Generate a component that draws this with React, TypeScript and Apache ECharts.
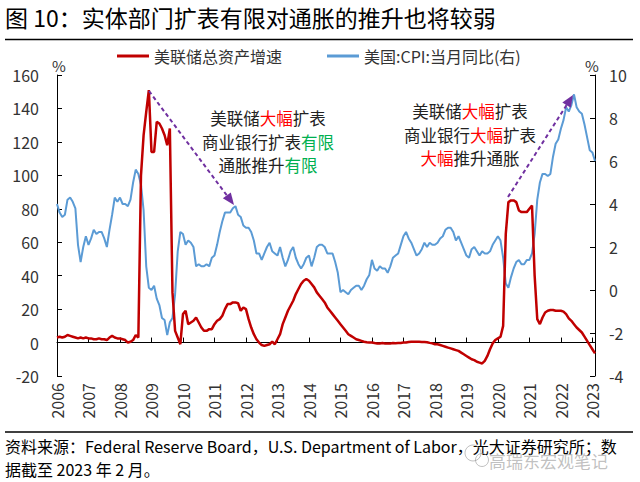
import React, { useEffect, useRef } from "react";
import * as echarts from "echarts";

const FONT = '"Noto Sans CJK SC", "Noto Sans", sans-serif';

const years = [2006, 2007, 2008, 2009, 2010, 2011, 2012, 2013, 2014, 2015, 2016, 2017, 2018, 2019, 2020, 2021, 2022, 2023];
const lastYearMonths = 2; // data ends Feb 2023

const seriesNames = ["美联储总资产增速", "美国:CPI:当月同比(右)"];

// 美联储总资产增速 (%), monthly, 2006-01 .. 2023-02
const fedAssetsYoY = [
  3, 3.5, 3, 3.5, 4.5, 4, 3.5, 3, 2.5, 3, 2.5, 3, // 2006
  2.5, 2.5, 2, 2, 2.5, 2, 2, 1.5, 3, 4, 3, 2.5, // 2007
  2.5, 2, 1.5, 0, 0.5, 1.5, 4.5, 3, 100, 124, 138, 151, // 2008
  114, 114, 132, 131, 128, 124, 118, 128, 30, 7, 3, -1, // 2009
  17, 19, 11, 12, 13, 15, 12, 9, 7, 7, 8, 8, // 2010
  11, 13, 14, 16, 20, 23, 23, 24, 24, 23.5, 19, 21, // 2011
  20, 14, 9, 5, 2, 0, -1.5, -2, -1.5, -1, 0.5, -1, // 2012
  2, 5, 11, 15, 19, 22, 25, 29, 32, 35, 37, 38, // 2013
  37, 35, 33, 30, 28, 26, 24, 21, 19, 17, 15, 13, // 2014
  11, 9, 7, 5, 4, 3, 2, 1.5, 1, 0.5, 0.2, 0, // 2015
  0, -0.3, -0.5, -0.5, -0.3, -0.5, -0.5, -0.5, -0.3, -0.4, -0.3, -0.2, // 2016
  0, 0, 0.3, 0.5, 0.5, 0.5, 0.5, 0.4, 0.3, 0.2, -0.2, -0.5, // 2017
  -1, -1, -1.5, -2, -2.5, -3, -3.5, -4, -4.5, -5, -6, -7, // 2018
  -8, -9, -10, -10.5, -11.5, -12, -12.5, -11, -8, -4, -0.5, 1.5, // 2019
  2.5, 3.5, 10, 65, 84, 85, 85, 84, 79, 78, 78, 78, // 2020
  80, 82, 40, 14, 11, 15, 18, 19, 19.5, 19.5, 19, 19, // 2021
  19, 18.5, 17, 14.5, 13, 11, 9, 7.5, 6, 3.5, 1, -1.5, // 2022
  -4, -6.5, // 2023
];

// 美国:CPI:当月同比 (%), monthly, 2006-01 .. 2023-02
const cpiYoY = [
  4.0, 3.6, 3.4, 3.5, 4.2, 4.3, 4.1, 3.8, 2.1, 1.3, 2.0, 2.5, // 2006
  2.1, 2.4, 2.8, 2.6, 2.7, 2.7, 2.4, 2.0, 2.8, 3.5, 4.3, 4.1, // 2007
  4.3, 4.0, 4.0, 3.9, 4.2, 5.0, 5.6, 5.4, 4.9, 3.7, 1.1, 0.1, // 2008
  0.0, 0.2, -0.4, -0.7, -1.3, -1.4, -2.1, -1.5, -1.3, -0.2, 1.8, 2.7, // 2009
  2.6, 2.1, 2.3, 2.2, 2.0, 1.1, 1.2, 1.1, 1.1, 1.2, 1.1, 1.5, // 2010
  1.6, 2.1, 2.7, 3.2, 3.6, 3.6, 3.6, 3.8, 3.9, 3.5, 3.4, 3.0, // 2011
  2.9, 2.9, 2.7, 2.3, 1.7, 1.7, 1.4, 1.7, 2.0, 2.2, 1.8, 1.7, // 2012
  1.6, 2.0, 1.5, 1.1, 1.4, 1.8, 2.0, 1.5, 1.2, 1.0, 1.2, 1.5, // 2013
  1.6, 1.1, 1.5, 2.0, 2.1, 2.1, 2.0, 1.7, 1.7, 1.7, 1.3, 0.8, // 2014
  -0.1, 0.0, -0.1, -0.2, 0.0, 0.1, 0.2, 0.2, 0.0, 0.2, 0.5, 0.7, // 2015
  1.4, 1.0, 0.9, 1.1, 1.0, 1.0, 0.8, 1.1, 1.5, 1.6, 1.7, 2.1, // 2016
  2.5, 2.7, 2.4, 2.2, 1.9, 1.6, 1.7, 1.9, 2.2, 2.0, 2.2, 2.1, // 2017
  2.1, 2.2, 2.4, 2.5, 2.8, 2.9, 2.9, 2.7, 2.3, 2.5, 2.2, 1.9, // 2018
  1.6, 1.5, 1.9, 2.0, 1.8, 1.6, 1.8, 1.7, 1.7, 1.8, 2.1, 2.3, // 2019
  2.5, 2.3, 1.5, 0.3, 0.1, 0.6, 1.0, 1.3, 1.4, 1.2, 1.2, 1.4, // 2020
  1.4, 1.7, 2.6, 4.2, 5.0, 5.4, 5.4, 5.3, 5.4, 6.2, 6.8, 7.0, // 2021
  7.5, 7.9, 8.5, 8.3, 8.6, 9.1, 8.5, 8.3, 8.2, 7.7, 7.1, 6.5, // 2022
  6.4, 6.0, // 2023
];

const leftAxisRange = [-20, 160, 20];
const rightAxisRange = [-4, 10, 2];

const titleText = "图 10：实体部门扩表有限对通胀的推升也将较弱";
const sourceLine1 = "资料来源：Federal Reserve Board，U.S. Department of Labor，光大证券研究所；数";
const sourceLine2 = "据截至 2023 年 2 月。";
const watermarkText = "高瑞东宏观笔记";
const note1 = "美联储{r|大幅}扩表\n商业银行扩表{g|有限}\n通胀推升{g|有限}";
const note2 = "美联储{r|大幅}扩表\n商业银行{r|大幅}扩表\n{r|大幅}推升通胀";

function buildMonths(): string[] {
  const out: string[] = [];
  years.forEach((y, yi) => {
    const n = yi === years.length - 1 ? lastYearMonths : 12;
    for (let m = 1; m <= n; m++) out.push(`${y}-${m < 10 ? "0" + m : m}`);
  });
  return out;
}

function arrow(x1: number, y1: number, x2: number, y2: number, color: string) {
  const dx = x2 - x1;
  const dy = y2 - y1;
  const len = Math.sqrt(dx * dx + dy * dy);
  const ux = dx / len;
  const uy = dy / len;
  const hl = 12;
  const hw = 5;
  const bx = x2 - ux * hl;
  const by = y2 - uy * hl;
  const px = -uy;
  const py = ux;
  return [
    {
      type: "line",
      shape: { x1, y1, x2: bx, y2: by },
      style: { stroke: color, lineWidth: 2, lineDash: [4, 3] },
      z: 100,
    },
    {
      type: "polygon",
      shape: {
        points: [
          [x2, y2],
          [bx + px * hw, by + py * hw],
          [bx - px * hw, by - py * hw],
        ],
      },
      style: { fill: color },
      z: 100,
    },
  ];
}

export default function App() {
  const ref = useRef<HTMLDivElement>(null);

  useEffect(() => {
    if (!ref.current) return;
    const chart = echarts.init(ref.current, null, { renderer: "svg" });
    const months = buildMonths();
    const isYearStart = (i: number) => i % 12 === 0;

    const noteRich = {
      r: { fill: "#FF0000", fontSize: 16.5, fontFamily: FONT, lineHeight: 23.5 },
      g: { fill: "#00B050", fontSize: 16.5, fontFamily: FONT, lineHeight: 23.5 },
    };
    const purple = "#7030A0";

    const option: any = {
      animation: false,
      backgroundColor: "#fff",
      textStyle: { fontFamily: FONT },
      title: {
        text: titleText,
        left: 5,
        top: 5,
        padding: 0,
        textStyle: { fontSize: 23, fontWeight: "normal", color: "#000", fontFamily: FONT },
      },
      legend: {
        data: seriesNames,
        left: 117,
        top: 48,
        padding: 0,
        itemWidth: 32,
        itemHeight: 3,
        itemGap: 45,
        icon: "rect",
        textStyle: { fontSize: 16, color: "#333", fontFamily: FONT },
      },
      grid: { left: 57, right: 45, top: 75, bottom: 106, containLabel: false },
      xAxis: [
        {
          type: "category",
          data: months,
          boundaryGap: false,
          axisLine: { show: true, onZero: true, onZeroAxisIndex: 0, lineStyle: { color: "#000", width: 1 } },
          axisTick: { show: true, inside: true, length: 5, interval: isYearStart, lineStyle: { color: "#000" } },
          axisLabel: { show: false },
          splitLine: { show: false },
        },
        {
          type: "category",
          data: months,
          boundaryGap: false,
          position: "bottom",
          axisLine: { show: false, onZero: false },
          axisTick: { show: false },
          splitLine: { show: false },
          axisLabel: {
            interval: isYearStart,
            formatter: (v: string) => v.slice(0, 4),
            rotate: 90,
            margin: 7,
            fontSize: 16,
            color: "#333",
            fontFamily: FONT,
          },
        },
      ],
      yAxis: [
        {
          type: "value",
          position: "left",
          min: leftAxisRange[0],
          max: leftAxisRange[1],
          interval: leftAxisRange[2],
          axisLine: { show: true, lineStyle: { color: "#000" } },
          axisTick: { show: true, inside: true, length: 5, lineStyle: { color: "#000" } },
          splitLine: { show: false },
          axisLabel: { fontSize: 16, color: "#333", margin: 18, fontFamily: FONT },
        },
        {
          type: "value",
          position: "right",
          min: rightAxisRange[0],
          max: rightAxisRange[1],
          interval: rightAxisRange[2],
          axisLine: { show: true, lineStyle: { color: "#000" } },
          axisTick: { show: true, inside: true, length: 5, lineStyle: { color: "#000" } },
          splitLine: { show: false },
          axisLabel: { fontSize: 16, color: "#333", margin: 14, fontFamily: FONT },
        },
      ],
      series: [
        {
          name: seriesNames[1],
          type: "line",
          xAxisIndex: 0,
          yAxisIndex: 1,
          data: cpiYoY,
          showSymbol: false,
          symbol: "none",
          color: "#5B9BD5",
          lineStyle: { color: "#5B9BD5", width: 2 },
          z: 2,
        },
        {
          name: seriesNames[0],
          type: "line",
          xAxisIndex: 0,
          yAxisIndex: 0,
          data: fedAssetsYoY,
          showSymbol: false,
          symbol: "none",
          color: "#C00000",
          lineStyle: { color: "#C00000", width: 2.5 },
          z: 3,
        },
      ],
      graphic: [
        { type: "line", shape: { x1: 5, y1: 39.5, x2: 633, y2: 39.5 }, style: { stroke: "#000", lineWidth: 1.5 } },
        { type: "line", shape: { x1: 5, y1: 432, x2: 633, y2: 432 }, style: { stroke: "#000", lineWidth: 1.5 } },
        { type: "text", x: 59, y: 65, style: { text: "%", fontSize: 15, fill: "#333", fontFamily: FONT, textAlign: "center", textVerticalAlign: "middle" } },
        { type: "text", x: 592, y: 65, style: { text: "%", fontSize: 15, fill: "#333", fontFamily: FONT, textAlign: "center", textVerticalAlign: "middle" } },
        {
          type: "text",
          x: 268,
          y: 141.5,
          z: 100,
          style: {
            text: note1,
            fontSize: 16.5,
            lineHeight: 23.5,
            fill: "#222",
            fontFamily: FONT,
            textAlign: "center",
            textVerticalAlign: "middle",
            rich: noteRich,
          },
        },
        {
          type: "text",
          x: 470,
          y: 134.5,
          z: 100,
          style: {
            text: note2,
            fontSize: 16.5,
            lineHeight: 23.5,
            fill: "#222",
            fontFamily: FONT,
            textAlign: "center",
            textVerticalAlign: "middle",
            rich: noteRich,
          },
        },
        ...arrow(149, 91, 234, 205, purple),
        ...arrow(508, 197, 573, 95, purple),
        { type: "text", x: 5, y: 446, style: { text: sourceLine1, fontSize: 16, lineHeight: 18, fill: "#000", fontFamily: FONT, textVerticalAlign: "middle" } },
        { type: "text", x: 5, y: 468.5, style: { text: sourceLine2, fontSize: 16, lineHeight: 18, fill: "#000", fontFamily: FONT, textVerticalAlign: "middle" } },
        { type: "circle", shape: { cx: 473, cy: 453, r: 8 }, style: { fill: "none", stroke: "rgba(150,150,150,0.6)", lineWidth: 1 }, z: 110 },
        { type: "circle", shape: { cx: 482, cy: 460, r: 6.5 }, style: { fill: "none", stroke: "rgba(150,150,150,0.6)", lineWidth: 1 }, z: 110 },
        { type: "text", x: 489, y: 460, z: 110, style: { text: watermarkText, fontSize: 17, lineHeight: 19, fill: "rgba(140,140,140,0.55)", fontFamily: FONT, textVerticalAlign: "middle" } },
      ],
    };

    chart.setOption(option);
    return () => chart.dispose();
  }, []);

  return <div ref={ref} style={{ position: "absolute", left: 0, top: 0, width: 640, height: 482 }} />;
}
